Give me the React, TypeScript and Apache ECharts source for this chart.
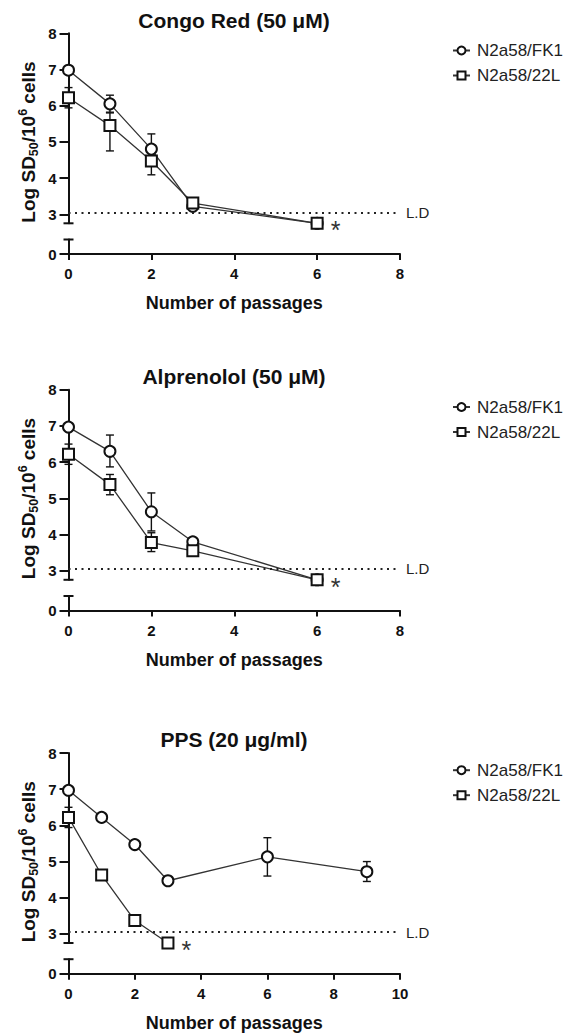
import React, { useEffect, useRef } from "react";
import * as echarts from "echarts";

const FONT = "'Liberation Sans', Arial, sans-serif";

const SERIES_NAMES = ["N2a58/FK1", "N2a58/22L"];
const PANEL_TITLES = ["Congo Red (50 μM)", "Alprenolol (50 μM)", "PPS (20 μg/ml)"];
const X_MAX = [8, 8, 10];
const X_INTERVAL = 2;
const Y_TICKS = [3, 4, 5, 6, 7, 8];
const Y_LOWER_TICKS = [0];
const Y_UPPER_MIN = 2.75;
const Y_UPPER_MAX = 8;
const Y_LOWER_MAX = 0.4;
const LOD = 3.05;
const ASTERISK_X = [6, 6, 3];

// Panel 1: Congo Red
const congoFK1 = [[0, 6.98], [1, 6.05], [2, 4.8], [3, 3.22], [6, 2.75]];
const congo22L = [[0, 6.22], [1, 5.45], [2, 4.47], [3, 3.31], [6, 2.75]];
const congoFK1Err = [[0, 6.93, 7.03], [1, 5.82, 6.29], [2, 4.38, 5.22]];
const congo22LErr = [[0, 5.94, 6.5], [1, 4.75, 5.8], [2, 4.09, 4.84]];

// Panel 2: Alprenolol
const alpFK1 = [[0, 6.97], [1, 6.3], [2, 4.63], [3, 3.8], [6, 2.75]];
const alp22L = [[0, 6.22], [1, 5.38], [2, 3.78], [3, 3.55], [6, 2.75]];
const alpFK1Err = [[0, 6.92, 7.02], [1, 5.87, 6.75], [2, 4.1, 5.15]];
const alp22LErr = [[0, 5.94, 6.5], [1, 5.1, 5.66], [2, 3.53, 4.05]];

// Panel 3: PPS
const ppsFK1 = [[0, 6.97], [1, 6.22], [2, 5.47], [3, 4.47], [6, 5.13], [9, 4.72]];
const pps22L = [[0, 6.22], [1, 4.63], [2, 3.37], [3, 2.75]];
const ppsFK1Err = [[0, 6.92, 7.02], [6, 4.6, 5.66], [9, 4.45, 5.0]];
const pps22LErr = [[0, 5.94, 6.5]];

const PANELS = [
  { fk1: congoFK1, l22: congo22L, fk1Err: congoFK1Err, l22Err: congo22LErr },
  { fk1: alpFK1, l22: alp22L, fk1Err: alpFK1Err, l22Err: alp22LErr },
  { fk1: ppsFK1, l22: pps22L, fk1Err: ppsFK1Err, l22Err: pps22LErr },
];

// layout (pixels)
const OFFSETS = [0, 356.5, 719.7];
const GRID_LEFT = 68.5;
const GRID_WIDTH = 331.5;
const UPPER_TOP = 33.3;
const UPPER_H = 190;
const LOWER_TOP = 239.5;
const LOWER_H = 14.5;

const INK = "#111";

function errRender(params: any, api: any) {
  const x = api.value(0);
  const lo = api.value(1);
  const hi = api.value(2);
  const a = api.coord([x, lo]);
  const b = api.coord([x, hi]);
  const w = 4;
  const st = { stroke: INK, lineWidth: 1.4 };
  return {
    type: "group",
    children: [
      { type: "line", shape: { x1: a[0], y1: a[1], x2: b[0], y2: b[1] }, style: st },
      { type: "line", shape: { x1: a[0] - w, y1: a[1], x2: a[0] + w, y2: a[1] }, style: st },
      { type: "line", shape: { x1: b[0] - w, y1: b[1], x2: b[0] + w, y2: b[1] }, style: st },
    ],
  };
}

function capRender(params: any, api: any) {
  const p = api.coord([api.value(0), api.value(1)]);
  return {
    type: "line",
    shape: { x1: p[0] - 5, y1: p[1], x2: p[0] + 5, y2: p[1] },
    style: { stroke: INK, lineWidth: 2 },
  };
}

export default function App() {
  const ref = useRef<HTMLDivElement>(null);

  useEffect(() => {
    if (!ref.current) return;
    const chart = echarts.init(ref.current, null, { renderer: "svg" });

    const grid: any[] = [];
    const xAxis: any[] = [];
    const yAxis: any[] = [];
    const series: any[] = [];
    const legend: any[] = [];
    const graphic: any[] = [];

    PANELS.forEach((p, i) => {
      const off = OFFSETS[i];
      const gU = i * 2;
      const gL = i * 2 + 1;
      grid.push({ left: GRID_LEFT, width: GRID_WIDTH, top: UPPER_TOP + off, height: UPPER_H });
      grid.push({ left: GRID_LEFT, width: GRID_WIDTH, top: LOWER_TOP + off, height: LOWER_H });

      xAxis.push({
        type: "value", gridIndex: gU, min: 0, max: X_MAX[i], interval: X_INTERVAL, show: false,
      });
      xAxis.push({
        type: "value", gridIndex: gL, min: 0, max: X_MAX[i], interval: X_INTERVAL,
        axisLine: { show: true, onZero: false, lineStyle: { color: INK, width: 2 } },
        axisTick: { show: true, length: 6, lineStyle: { color: INK, width: 2 } },
        axisLabel: { margin: 12, fontSize: 15, fontWeight: "bold", color: INK, fontFamily: FONT },
        splitLine: { show: false },
        name: "Number of passages",
        nameLocation: "middle",
        nameGap: 40,
        nameTextStyle: { fontSize: 18, fontWeight: "bold", color: INK, fontFamily: FONT },
      });

      yAxis.push({
        type: "value", gridIndex: gU, min: Y_UPPER_MIN, max: Y_UPPER_MAX,
        axisLine: { show: true, onZero: false, lineStyle: { color: INK, width: 2 } },
        axisTick: { show: true, length: 9, customValues: Y_TICKS, lineStyle: { color: INK, width: 2 } },
        axisLabel: { margin: 12, customValues: Y_TICKS, fontSize: 15, fontWeight: "bold", color: INK, fontFamily: FONT },
        splitLine: { show: false },
      });
      yAxis.push({
        type: "value", gridIndex: gL, min: 0, max: Y_LOWER_MAX,
        axisLine: { show: true, onZero: false, lineStyle: { color: INK, width: 2 } },
        axisTick: { show: true, length: 9, customValues: Y_LOWER_TICKS, lineStyle: { color: INK, width: 2 } },
        axisLabel: { margin: 12, customValues: Y_LOWER_TICKS, fontSize: 15, fontWeight: "bold", color: INK, fontFamily: FONT },
        splitLine: { show: false },
      });

      const symStyle = { color: "#fff", borderColor: INK, borderWidth: 2 };
      const lineStyle = { color: "#333", width: 1.3 };

      series.push({
        type: "custom", name: "err-fk1-" + i, xAxisIndex: gU, yAxisIndex: gU,
        data: p.fk1Err, renderItem: errRender, encode: { x: 0, y: [1, 2] }, z: 1, silent: true,
      });
      series.push({
        type: "custom", name: "err-22l-" + i, xAxisIndex: gU, yAxisIndex: gU,
        data: p.l22Err, renderItem: errRender, encode: { x: 0, y: [1, 2] }, z: 1, silent: true,
      });

      series.push({
        type: "line", name: SERIES_NAMES[0], xAxisIndex: gU, yAxisIndex: gU,
        data: p.fk1, symbol: "circle", symbolSize: 11, showAllSymbol: true,
        itemStyle: symStyle, lineStyle, z: 3,
        markLine: {
          silent: true, symbol: "none",
          data: [{ yAxis: LOD }],
          lineStyle: { type: [2, 4.5], color: "#222", width: 1.8 },
          label: { formatter: "L.D", position: "end", fontSize: 15, color: "#222", distance: 6, fontFamily: FONT },
        },
      });
      series.push({
        type: "line", name: SERIES_NAMES[1], xAxisIndex: gU, yAxisIndex: gU,
        data: p.l22.map((d) =>
          d[0] === ASTERISK_X[i]
            ? { value: d, label: { show: true, formatter: "*", position: "right", distance: 7, offset: [0, 7], fontSize: 25, color: "#333", fontFamily: FONT } }
            : d
        ),
        symbol: "rect", symbolSize: 11, showAllSymbol: true,
        itemStyle: symStyle, lineStyle, z: 4,
      });

      // axis break caps
      series.push({
        type: "custom", name: "capU-" + i, xAxisIndex: gU, yAxisIndex: gU,
        data: [[0, Y_UPPER_MIN]], renderItem: capRender, silent: true, clip: false, z: 5,
      });
      series.push({
        type: "custom", name: "capL-" + i, xAxisIndex: gL, yAxisIndex: gL,
        data: [[0, Y_LOWER_MAX]], renderItem: capRender, silent: true, clip: false, z: 5,
      });

      legend.push({
        data: SERIES_NAMES,
        orient: "vertical",
        left: 447,
        top: off + 37,
        itemWidth: 17,
        itemHeight: 10,
        itemGap: 8,
        selectedMode: false,
        textStyle: { fontSize: 17, color: "#222", fontFamily: FONT, padding: [0, 0, 0, 2] },
      });

      graphic.push({
        type: "text", x: 234, y: off + 20,
        style: {
          text: PANEL_TITLES[i], textAlign: "center", textVerticalAlign: "middle",
          fontSize: 21, fontWeight: "bold", fontFamily: FONT, fill: INK,
        },
      });
      graphic.push({
        type: "text", x: 28, y: off + 142, rotation: Math.PI / 2,
        style: {
          text: "{a|Log SD}{s|50}{a|/10}{p|6}{a| cells}",
          textAlign: "center", textVerticalAlign: "middle",
          rich: {
            a: { fontSize: 19, fontWeight: "bold", fontFamily: FONT, fill: INK, lineHeight: 24, verticalAlign: "middle" },
            s: { fontSize: 12.5, fontWeight: "bold", fontFamily: FONT, fill: INK, lineHeight: 12, verticalAlign: "bottom" },
            p: { fontSize: 12.5, fontWeight: "bold", fontFamily: FONT, fill: INK, lineHeight: 12, verticalAlign: "top" },
          },
        },
      });
    });

    chart.setOption({
      animation: false,
      backgroundColor: "#fff",
      grid, xAxis, yAxis, series, legend, graphic,
    });

    return () => chart.dispose();
  }, []);

  return (
    <div
      ref={ref}
      style={{ position: "absolute", left: 0, top: 0, width: 577, height: 1033, background: "#fff" }}
    />
  );
}
